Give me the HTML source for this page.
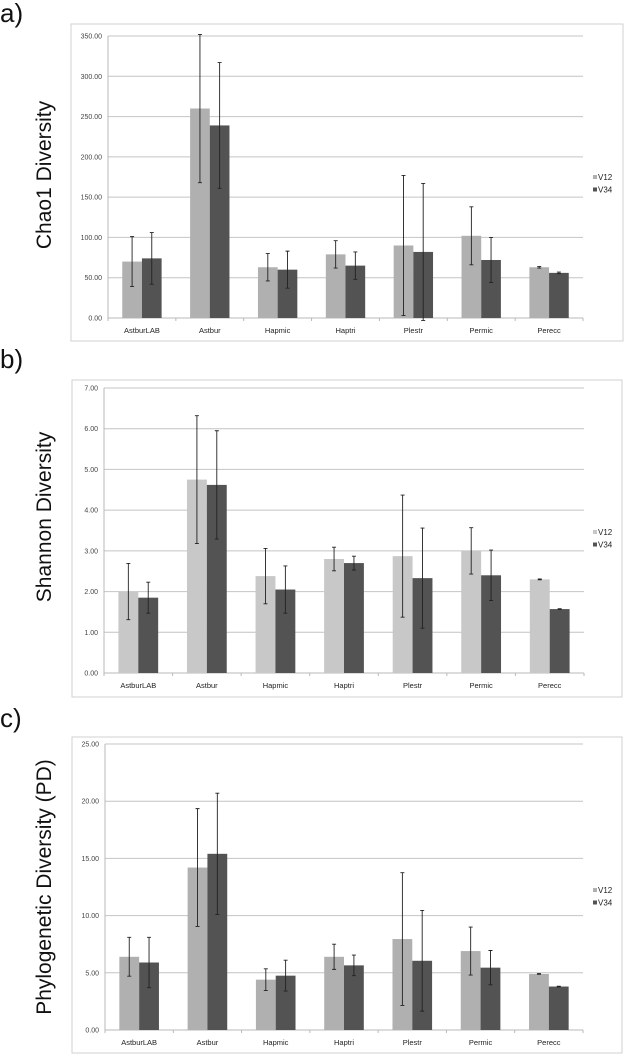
<!DOCTYPE html>
<html><head><meta charset="utf-8"><style>
html,body{margin:0;padding:0;background:#fff;}
svg{display:block;font-family:"Liberation Sans",sans-serif;}
</style></head><body>
<svg id="chart" width="626" height="1056" viewBox="0 0 626 1056" xmlns="http://www.w3.org/2000/svg"></svg>
<script>
const categories = ["AstburLAB","Astbur","Hapmic","Haptri","Plestr","Permic","Perecc"];
const seriesNames = ["V12","V34"];
// Panel a: Chao1
const chaoV12 = [70,260,63,79,90,102,63];
const chaoV34 = [74,239,60,65,82,72,56];
const chaoErrV12 = [31,92,17,17,87,36,1];
const chaoErrV34 = [32,78,23,17,85,28,1];
const chaoTicks = [0,50,100,150,200,250,300,350];
// Panel b: Shannon
const shanV12 = [2.0,4.75,2.38,2.8,2.87,3.0,2.3];
const shanV34 = [1.85,4.62,2.05,2.7,2.33,2.4,1.57];
const shanErrV12 = [0.69,1.57,0.68,0.29,1.5,0.57,0.01];
const shanErrV34 = [0.38,1.33,0.58,0.17,1.23,0.62,0.01];
const shanTicks = [0,1,2,3,4,5,6,7];
// Panel c: PD
const pdV12 = [6.4,14.2,4.4,6.4,7.95,6.9,4.9];
const pdV34 = [5.9,15.4,4.75,5.65,6.05,5.45,3.8];
const pdErrV12 = [1.7,5.15,0.95,1.1,5.8,2.1,0.03];
const pdErrV34 = [2.2,5.3,1.35,0.9,4.4,1.5,0.03];
const pdTicks = [0,5,10,15,20,25];

const NS="http://www.w3.org/2000/svg";
const svg=document.getElementById('chart');
function mk(tag,attrs,parent){const e=document.createElementNS(NS,tag);for(const k in attrs)e.setAttribute(k,attrs[k]);(parent||svg).appendChild(e);return e;}

function panel(o){
  const g=mk('g',{});
  
  
  const fr=mk('rect',{x:o.fx,y:o.fy,width:o.fw,height:o.fh,fill:'#fff',stroke:'#d0d0d0','stroke-width':1},g);
  
  
  const lab=mk('text',{x:0,y:o.labelY,'font-size':26,fill:'#111'},g);
  lab.textContent=o.label;
  
  
  const yt=mk('text',{x:0,y:0,'font-size':21,fill:'#111','text-anchor':'middle',transform:`translate(51,${o.titleY}) rotate(-90)`},g);
  yt.textContent=o.title;
  
  
  const max=o.ticks[o.ticks.length-1];
  const yS=v=>o.y0-(v/max)*(o.y0-o.y1);
  const bw=(o.x1-o.x0)/categories.length;
  const xS=i=>o.x0+bw*(i+0.5);
  o.ticks.forEach(t=>{
    const y=yS(t);
    if(t>0){const gl=mk('line',{x1:o.x0,x2:o.x1,y1:y,y2:y,stroke:'#c4c4c4','stroke-width':1},g);
      
      }
    const tl=mk('text',{x:o.x0-6,y:y+2.5,'font-size':7,fill:'#444','text-anchor':'end'},g);
    tl.textContent=t.toFixed(2);
    
    
  });
  const ax=mk('line',{x1:o.x0,x2:o.x0,y1:o.y1,y2:o.y0,stroke:'#b8b8b8'},g);
  
  
  const xa=mk('line',{x1:o.x0,x2:o.x1,y1:o.y0,y2:o.y0,stroke:'#b8b8b8'},g);
  
  
  for(let i=0;i<=categories.length;i++){
    const x=o.x0+bw*i;
    mk('line',{x1:x,x2:x,y1:o.y0,y2:o.y0+3,stroke:'#b8b8b8'},g);
  }
  const w=bw*0.29;
  const series=[[o.v1,o.e1,o.c1,'v12'],[o.v2,o.e2,o.c2,'v34']];
  categories.forEach((c,i)=>{
    series.forEach((s,k)=>{
      const v=s[0][i], e=s[1][i];
      const bx=xS(i)-w+k*w;
      const r=mk('rect',{x:bx,y:yS(v),width:w,height:o.y0-yS(v),fill:s[2]},g);
      
      
      const cx=bx+w/2, yt=yS(v+e), yb=yS(Math.max(v-e,-max*0.01));
      const eb=mk('path',{d:`M${cx},${yt}V${yb}M${cx-2},${yt}H${cx+2}M${cx-2},${yb}H${cx+2}`,stroke:'#222','stroke-width':0.9,fill:'none'},g);
      
      
    });
    const cl=mk('text',{x:xS(i),y:o.y0+15,'font-size':7.5,fill:'#222','text-anchor':'middle'},g);
    cl.textContent=c;
    
    
  });
  [[o.c1,seriesNames[0]],[o.c2,seriesNames[1]]].forEach((s,k)=>{
    const ly=o.legY+k*12.5;
    const sw=mk('rect',{x:593,y:ly-5,width:4,height:4,fill:s[0]},g);
    
    
    const lt=mk('text',{x:598,y:ly,'font-size':8,fill:'#222'},g);
    lt.textContent=s[1];
    
    
  });
}
panel({key:'chao1',label:'a)',labelY:22,title:'Chao1 Diversity',titleY:175,fx:71,fy:24,fw:552,fh:317,x0:108,x1:583,y0:318,y1:36,ticks:chaoTicks,v1:chaoV12,v2:chaoV34,e1:chaoErrV12,e2:chaoErrV34,c1:'#b0b0b0',c2:'#535353',legY:180});
panel({key:'shannon',label:'b)',labelY:368,title:'Shannon Diversity',titleY:517,fx:72,fy:380,fw:550,fh:317,x0:104,x1:584,y0:673,y1:388,ticks:shanTicks,v1:shanV12,v2:shanV34,e1:shanErrV12,e2:shanErrV34,c1:'#c8c8c8',c2:'#535353',legY:535});
panel({key:'pd',label:'c)',labelY:727,title:'Phylogenetic Diversity (PD)',titleY:887,fx:72,fy:737,fw:550,fh:316,x0:105,x1:583,y0:1030,y1:744,ticks:pdTicks,v1:pdV12,v2:pdV34,e1:pdErrV12,e2:pdErrV34,c1:'#b0b0b0',c2:'#535353',legY:893});
</script>
</body></html>
